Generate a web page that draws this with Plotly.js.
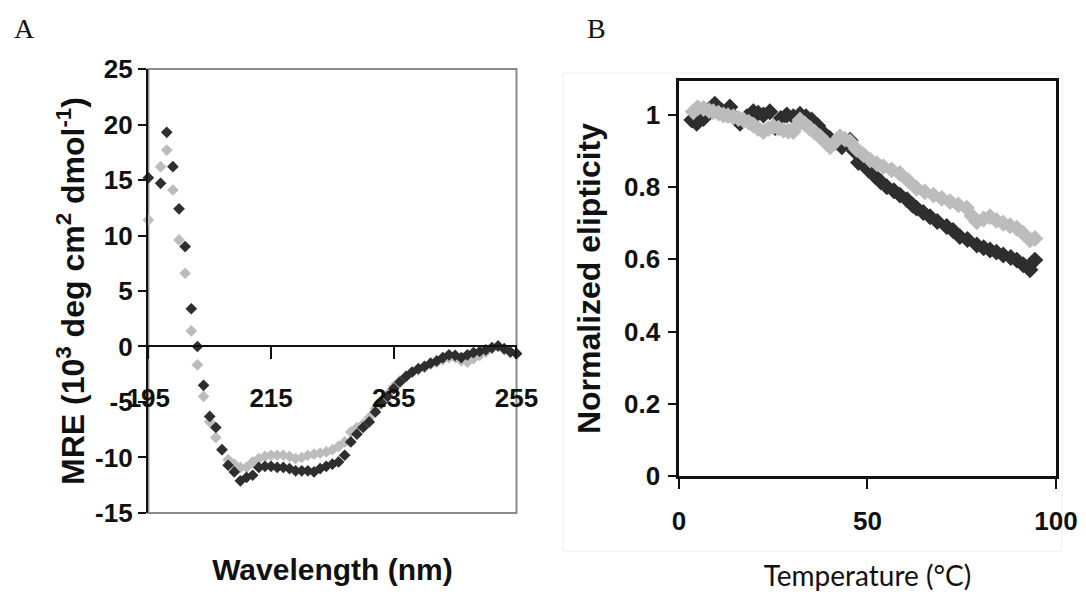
<!DOCTYPE html>
<html>
<head>
<meta charset="utf-8">
<script src="https://cdn.plot.ly/plotly-3.0.1.min.js"></script>
<style>html,body{margin:0;padding:0;background:#fff;}#chart{width:1086px;height:596px;}</style>
</head>
<body>
<div id="chart"></div>
<script>
// ---- Panel A : CD spectrum ----
const wavelength = [195,197,198,199,200,201,202,203,204,205,206,207,208,209,210,211,212,213,214,215,216,217,218,219,220,221,222,223,224,225,226,227,228,229,230,231,232,233,234,235,236,237,238,239,240,241,242,243,244,245,246,247,248,249,250,251,252,253,254,255];
const mreDark = [15.2,14.7,19.3,16.2,12.4,9.0,3.4,0.0,-3.5,-6.3,-7.3,-9.3,-10.7,-11.3,-12.1,-11.8,-11.6,-10.9,-10.8,-10.8,-10.9,-10.9,-11.0,-11.2,-11.2,-11.2,-11.3,-11.0,-10.8,-10.6,-10.4,-9.8,-8.6,-7.9,-7.3,-6.8,-5.9,-5.1,-4.5,-3.8,-3.2,-2.7,-2.3,-2.0,-1.8,-1.5,-1.3,-1.0,-0.75,-0.8,-1.0,-0.75,-0.55,-0.45,-0.3,-0.1,0.05,-0.2,-0.5,-0.65];
const mreLight = [11.4,16.2,17.7,14.1,9.6,6.6,1.4,-1.65,-4.5,-6.8,-8.2,-9.3,-10.2,-10.6,-10.9,-10.9,-10.4,-10.1,-9.9,-9.8,-9.8,-9.8,-9.9,-10.1,-10.0,-9.8,-9.7,-9.6,-9.5,-9.3,-9.0,-8.6,-7.7,-7.3,-7.0,-6.4,-5.6,-4.9,-4.3,-3.6,-3.1,-2.7,-2.3,-2.1,-1.9,-1.6,-1.4,-1.2,-1.0,-1.0,-1.3,-1.4,-1.1,-0.8,-0.5,-0.2,0.0,-0.3,-0.5,-0.6];
const wlTicks = [195,215,235,255];
const mreTicks = [-15,-10,-5,0,5,10,15,20,25];
const mreTickText = ['-15','-10','-5','0','5','10','15','20','25'];

// ---- Panel B : thermal denaturation ----
const tempDark = [3.4,4.7,6.5,8.0,9.5,11.5,13.5,15.0,16.2,18.0,19.7,21.0,22.4,24.1,25.5,27.0,28.6,30.3,32.1,33.7,35.2,36.8,38.3,40.0,41.5,43.2,45.4,46.5,47.6,49.0,50.2,52.0,53.5,55.1,57.0,58.6,60.5,62.0,63.0,64.8,66.6,68.5,71.0,72.7,74.5,76.5,79.0,80.8,82.5,84.2,86.0,88.0,89.6,91.3,93.1,94.4];
const ellipDark = [0.986,0.977,0.99,1.01,1.03,1.01,1.022,0.99,0.977,0.995,1.009,1.005,1.0,1.009,0.965,0.99,1.0,0.995,1.002,0.995,0.986,0.97,0.95,0.935,0.925,0.912,0.93,0.90,0.868,0.865,0.848,0.83,0.815,0.801,0.79,0.778,0.765,0.75,0.742,0.73,0.718,0.705,0.691,0.68,0.663,0.655,0.64,0.632,0.626,0.62,0.612,0.605,0.598,0.585,0.571,0.598];
const tempLight = [3.8,5.0,6.5,8.0,9.1,10.5,11.8,13.0,14.4,15.8,17.1,18.5,19.7,21.0,22.4,23.7,25.0,26.4,27.7,29.0,30.3,31.2,32.1,33.4,34.7,36.0,37.4,38.8,40.1,41.4,42.7,44.0,45.4,47.1,48.9,50.7,52.5,54.2,56.4,58.6,60.8,63.0,65.2,67.5,69.7,71.9,74.1,76.3,77.7,79.0,80.8,82.5,84.2,86.0,87.8,89.6,91.3,93.1,94.4];
const ellipLight = [1.009,1.02,1.018,1.012,1.009,1.005,1.0,0.998,0.995,0.99,0.986,0.98,0.972,0.962,0.954,0.962,0.968,0.963,0.958,0.955,0.954,0.97,0.986,0.975,0.963,0.952,0.94,0.925,0.912,0.925,0.94,0.933,0.926,0.905,0.89,0.875,0.865,0.857,0.848,0.838,0.818,0.797,0.787,0.778,0.769,0.76,0.751,0.742,0.72,0.704,0.712,0.718,0.708,0.7,0.693,0.686,0.672,0.654,0.658];
const tempTicks = [0,50,100];
const ellipTicks = [0,0.2,0.4,0.6,0.8,1];

const DARK = '#2e2e2e', LIGHT = '#bcbcbc';
const SANS = 'Liberation Sans, Arial, sans-serif';
const tickFont = {family:SANS, size:26, color:'#111', weight:'bold'};

const traces = [
  {x: wavelength, y: mreLight, xaxis:'x', yaxis:'y', mode:'markers', type:'scatter', cliponaxis:false,
   marker:{symbol:'diamond', size:9, color:LIGHT, line:{width:0}}, name:'light A'},
  {x: wavelength, y: mreDark, xaxis:'x', yaxis:'y', mode:'markers', type:'scatter', cliponaxis:false,
   marker:{symbol:'diamond', size:9, color:DARK, line:{width:0}}, name:'dark A'},
  {x: tempDark, y: ellipDark, xaxis:'x2', yaxis:'y2', mode:'markers', type:'scatter', cliponaxis:false,
   marker:{symbol:'diamond', size:13, color:DARK, line:{width:0}}, name:'dark B'},
  {x: tempLight, y: ellipLight, xaxis:'x2', yaxis:'y2', mode:'markers', type:'scatter', cliponaxis:false,
   marker:{symbol:'diamond', size:13, color:LIGHT, line:{width:0}}, name:'light B'}
];

const layout = {
  width:1086, height:596,
  margin:{l:0, r:0, t:0, b:0},
  paper_bgcolor:'#fff', plot_bgcolor:'#fff',
  showlegend:false,
  xaxis:{
    domain:[0.1366, 0.4756], range:[195,255], tickvals: wlTicks,
    anchor:'free', position:0.4195,
    showline:true, linecolor:'#111', linewidth:2.5,
    ticks:'outside', ticklen:12, tickwidth:2, tickcolor:'#111',
    ticklabelstandoff:16, tickfont:tickFont,
    showgrid:false, zeroline:false, automargin:false,
    title:{text:'Wavelength (nm)', standoff:147, font:{family:SANS, size:30, color:'#111', weight:'bold'}}
  },
  yaxis:{
    domain:[0.1393, 0.8842], range:[-15,25], tickvals: mreTicks, ticktext: mreTickText,
    anchor:'x', showline:true, linecolor:'#111', linewidth:2.5,
    ticks:'outside', ticklen:8, tickwidth:2, tickcolor:'#111',
    tickfont:tickFont, showgrid:false, zeroline:false, automargin:false,
    title:{text:'MRE (10<sup>3</sup> deg cm<sup>2</sup> dmol<sup>-1</sup>)', standoff:1, font:{family:SANS, size:32, color:'#111', weight:'bold'}}
  },
  xaxis2:{
    domain:[0.6252, 0.9724], range:[0,100], tickvals: tempTicks,
    anchor:'y2', showline:true, mirror:true, linecolor:'#111', linewidth:2.5,
    ticks:'outside', ticklen:10, tickwidth:2, tickcolor:'#111',
    ticklabelstandoff:10,
    tickfont:tickFont, showgrid:false, zeroline:false, automargin:false,
    title:{text:'Temperature (°C)', standoff:32, font:{family:'Lato, Open Sans, sans-serif', size:28, color:'#111'}}
  },
  yaxis2:{
    domain:[0.2013, 0.8641], range:[0,1.094], tickvals: ellipTicks,
    anchor:'x2', showline:true, mirror:true, linecolor:'#111', linewidth:2.5,
    ticks:'outside', ticklen:8, tickwidth:2, tickcolor:'#111',
    ticklabelstandoff:3,
    tickfont:tickFont, showgrid:false, zeroline:false, automargin:false,
    title:{text:'Normalized elipticity', standoff:14, font:{family:SANS, size:32, color:'#111', weight:'bold'}}
  },
  shapes:[
    {type:'rect', xref:'x domain', yref:'y domain', x0:0, x1:1, y0:0, y1:1, layer:'below',
     line:{color:'#8a8a8a', width:2}},
    {type:'rect', xref:'paper', yref:'paper', x0:563/1086, x1:1062/1086, y0:1-551/596, y1:1-73/596, layer:'below',
     line:{color:'#eeeeee', width:1}}
  ],
  annotations:[
    {text:'A', xref:'paper', yref:'paper', x:12/1086, y:1-28/596, xanchor:'left', yanchor:'middle', showarrow:false,
     font:{family:'Liberation Serif, DejaVu Serif, serif', size:28, color:'#111'}},
    {text:'B', xref:'paper', yref:'paper', x:585/1086, y:1-28/596, xanchor:'left', yanchor:'middle', showarrow:false,
     font:{family:'Liberation Serif, DejaVu Serif, serif', size:28, color:'#111'}}
  ]
};

Plotly.newPlot('chart', traces, layout, {displayModeBar:false, staticPlot:true});
</script>
</body>
</html>
